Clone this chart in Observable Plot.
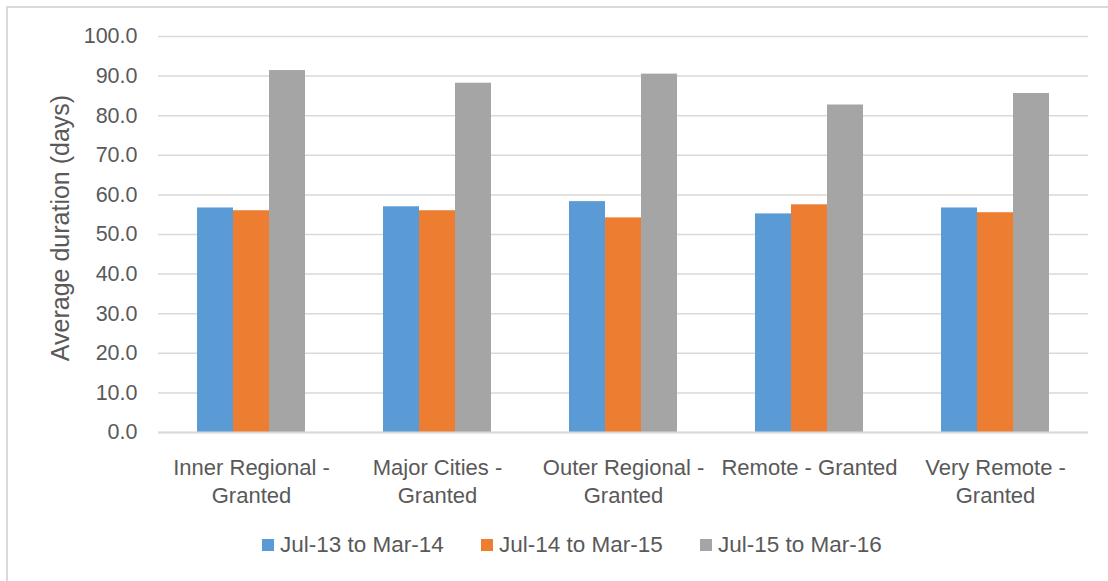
<!DOCTYPE html>
<html>
<head>
<meta charset="utf-8">
<script src="https://cdn.jsdelivr.net/npm/d3@7"></script>
<script src="https://cdn.jsdelivr.net/npm/@observablehq/plot@0.6"></script>
<style>
  html, body { margin: 0; padding: 0; background: #fff; overflow: hidden; }
  #wrap { position: relative; width: 1108px; height: 581px; overflow: hidden; font-family: "Liberation Sans", Arial, sans-serif; color: #595959; }
  #border { position: absolute; left: 6px; top: 6px; width: 1200px; height: 700px; border: 2px solid #D9D9D9; box-sizing: border-box; }
  #chart { position: absolute; left: 0; top: 0; }
  #ytitle { position: absolute; left: 60px; top: 228px; transform: translate(-50%, -50%) rotate(-90deg); white-space: nowrap; font-size: 25px; }
  #legend { position: absolute; left: 262px; top: 532px; display: flex; font-size: 22.5px; }
  .item { display: flex; align-items: center; width: 219px; }
  .sw { width: 12px; height: 12px; margin-right: 6px; flex: none; }
</style>
</head>
<body>
<div id="wrap">
  <div id="border"></div>
  <div id="chart"></div>
  <div id="ytitle"></div>
  <div id="legend"></div>
</div>
<script>
const categories = ["Inner Regional - Granted", "Major Cities - Granted", "Outer Regional - Granted", "Remote - Granted", "Very Remote - Granted"];
const categoryLabels = ["Inner Regional -\nGranted", "Major Cities -\nGranted", "Outer Regional -\nGranted", "Remote - Granted", "Very Remote -\nGranted"];
const series = ["Jul-13 to Mar-14", "Jul-14 to Mar-15", "Jul-15 to Mar-16"];
const jul13 = [56.7, 57.0, 58.3, 55.2, 56.7];
const jul14 = [56.0, 56.0, 54.2, 57.5, 55.5];
const jul15 = [91.4, 88.2, 90.5, 82.7, 85.6];
const colors = ["#5B9BD5", "#ED7D31", "#A5A5A5"];
const yTicks = [0, 10, 20, 30, 40, 50, 60, 70, 80, 90, 100];
const yTitle = "Average duration (days)";

const valuesBySeries = [jul13, jul14, jul15];
const data = [];
categories.forEach((c, i) => {
  series.forEach((s, j) => data.push({cat: c, series: s, value: valuesBySeries[j][i]}));
});

const chart = Plot.plot({
  width: 1108,
  height: 520,
  marginTop: 36,
  marginBottom: 88,
  marginLeft: 158,
  marginRight: 20,
  style: {fontFamily: "'Liberation Sans', Arial, sans-serif", fontSize: "21.5px", color: "#595959", background: "transparent"},
  fx: {domain: categories, padding: 0, axis: null},
  x: {domain: series, paddingInner: 0, paddingOuter: 1.083, axis: null},
  y: {domain: [0, 100], axis: null},
  color: {domain: series, range: colors},
  marks: [
    Plot.gridY(yTicks, {stroke: "#D9D9D9", strokeOpacity: 1, strokeWidth: 1.5}),
    Plot.barY(data, {fx: "cat", x: "series", y: "value", fill: "series"}),
    Plot.ruleY([0], {stroke: "#D9D9D9", strokeWidth: 2}),
    Plot.axisY(yTicks, {tickSize: 0, tickPadding: 21, tickFormat: d => d.toFixed(1), label: null, fontSize: 21.5, fill: "#595959"}),
    Plot.axisFx({anchor: "bottom", tickSize: 0, tickPadding: 23, tickFormat: d => categoryLabels[categories.indexOf(d)], label: null, fontSize: 22, lineHeight: 1.27, fill: "#595959"})
  ]
});
document.getElementById("chart").appendChild(chart);

document.getElementById("ytitle").textContent = yTitle;
const legend = document.getElementById("legend");
series.forEach((s, i) => {
  const item = document.createElement("div");
  item.className = "item";
  const sw = document.createElement("span");
  sw.className = "sw";
  sw.style.background = colors[i];
  const t = document.createElement("span");
  t.textContent = s;
  item.appendChild(sw);
  item.appendChild(t);
  legend.appendChild(item);
});
</script>
</body>
</html>
